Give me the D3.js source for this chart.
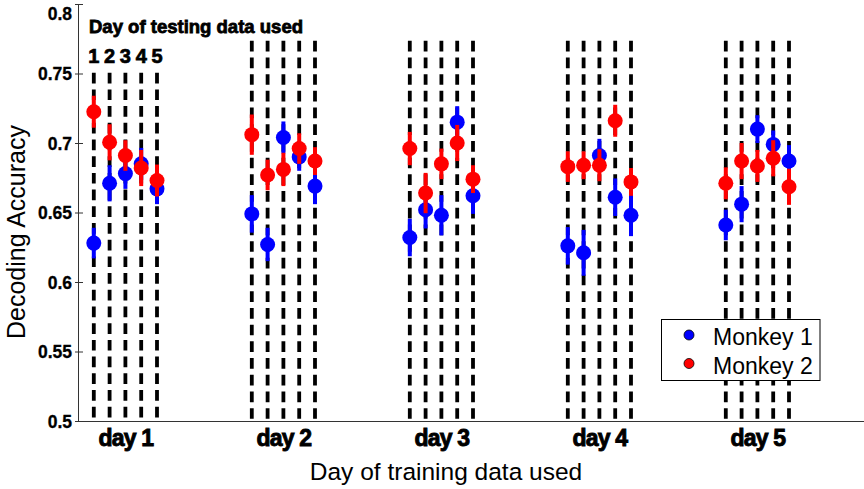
<!DOCTYPE html>
<html>
<head>
<meta charset="utf-8">
<script src="https://cdn.jsdelivr.net/npm/d3@7"></script>
<style>
  body { margin: 0; background: #fff; }
  svg { display: block; font-family: "Liberation Sans", Arial, Helvetica, sans-serif; }
</style>
</head>
<body>
<div id="chart"></div>
<script>
// training days (groups) and testing days (lines within a group)
const trainDays = [1, 2, 3, 4, 5];
const dayLabels = ["day 1", "day 2", "day 3", "day 4", "day 5"];
const testDays = [1, 2, 3, 4, 5];
const yTicks = [0.5, 0.55, 0.6, 0.65, 0.7, 0.75, 0.8];
const lineTop = [0.75, 0.773, 0.773, 0.773, 0.773];

// decoding accuracy, one row per training day, one column per testing day
const monkey1Acc = [
    [0.628, 0.671, 0.678, 0.685, 0.667],
    [0.649, 0.627, 0.704, 0.690, 0.669],
    [0.632, 0.652, 0.648, 0.715, 0.662],
    [0.626, 0.621, 0.691, 0.661, 0.648],
    [0.641, 0.656, 0.710, 0.699, 0.687]
];
const monkey1Err = [
    [0.011, 0.013, 0.011, 0.0115, 0.011],
    [0.0135, 0.012, 0.0115, 0.010, 0.013],
    [0.0135, 0.0135, 0.0145, 0.0115, 0.013],
    [0.0135, 0.0165, 0.012, 0.0135, 0.015],
    [0.011, 0.013, 0.010, 0.010, 0.0115]
];
const monkey2Acc = [
    [0.7225, 0.7005, 0.691, 0.682, 0.673],
    [0.706, 0.677, 0.681, 0.696, 0.687],
    [0.696, 0.664, 0.685, 0.700, 0.674],
    [0.683, 0.684, 0.684, 0.716, 0.672],
    [0.671, 0.687, 0.6835, 0.689, 0.6685]
];
const monkey2Err = [
    [0.0115, 0.013, 0.011, 0.013, 0.0115],
    [0.0145, 0.011, 0.012, 0.011, 0.010],
    [0.012, 0.0145, 0.011, 0.013, 0.010],
    [0.011, 0.010, 0.0115, 0.0115, 0.010],
    [0.0115, 0.013, 0.0115, 0.013, 0.013]
];
const seriesNames = ["Monkey 1", "Monkey 2"];
const seriesColors = ["#0000ff", "#ff0000"];

const width = 864, height = 489;

const svg = d3.select("#chart")
    .append("svg")
    .attr("width", width)
    .attr("height", height);

const x = d3.scaleLinear().domain([0.7, 5.7]).range([78, 868]);
const y = d3.scaleLinear().domain([0.5, 0.8]).range([421, 4]);

const testX = (day, t) => x(day + (t - 3) * 0.1);

// dashed guide lines, one per training/testing day pair
const lines = [];
trainDays.forEach((d, i) => {
    testDays.forEach(t => lines.push({ day: d, test: t, top: lineTop[i] }));
});

svg.append("g")
    .attr("class", "guides")
    .selectAll("line")
    .data(lines)
    .enter()
    .append("line")
    .attr("x1", d => testX(d.day, d.test))
    .attr("x2", d => testX(d.day, d.test))
    .attr("y1", d => y(d.top) - 0.8)
    .attr("y2", y(0.5))
    .attr("stroke", "#000")
    .attr("stroke-width", 3.8)
    .attr("stroke-dasharray", "10.7 6");

// axes
const yAxis = svg.append("g")
    .attr("transform", `translate(${x(0.7)},0)`)
    .call(d3.axisLeft(y).tickValues(yTicks).tickFormat(d3.format("")).tickSize(3).tickSizeOuter(0).tickPadding(3));

yAxis.select(".domain").attr("stroke", "#333");
yAxis.selectAll(".tick line").attr("x1", 5).attr("stroke", "#333");
yAxis.selectAll(".tick text")
    .attr("font-family", "Liberation Sans, Arial, sans-serif")
    .attr("font-size", 17.5)
    .attr("font-weight", "bold")
    .attr("fill", "#000")
    .attr("stroke", "#000")
    .attr("stroke-width", 0.3)
    .attr("dy", "0.36em")
    .attr("y", d => Math.max(y(d), 13) - y(d));

const xAxis = svg.append("g")
    .attr("transform", `translate(0,${y(0.5)})`)
    .call(d3.axisBottom(x).tickValues(trainDays).tickFormat(d => dayLabels[d - 1]).tickSize(0).tickSizeOuter(0).tickPadding(9));

xAxis.select(".domain").attr("stroke", "#333");
xAxis.selectAll(".tick text")
    .attr("font-family", "Liberation Sans, Arial, sans-serif")
    .attr("font-size", 23)
    .attr("font-weight", "bold")
    .attr("fill", "#000")
    .attr("stroke", "#000")
    .attr("stroke-width", 0.9)
    .attr("letter-spacing", -0.8);

// error bars + markers, monkey 1 first then monkey 2 on top
const series = [
    { name: seriesNames[0], color: seriesColors[0], acc: monkey1Acc, err: monkey1Err },
    { name: seriesNames[1], color: seriesColors[1], acc: monkey2Acc, err: monkey2Err }
];

series.forEach(s => {
    const pts = [];
    trainDays.forEach((d, i) => {
        testDays.forEach((t, j) => {
            pts.push({ day: d, test: t, v: s.acc[i][j], e: s.err[i][j] });
        });
    });

    const g = svg.append("g").attr("class", "series");

    const pt = g.selectAll("g")
        .data(pts)
        .enter()
        .append("g");

    pt.append("line")
        .attr("x1", d => testX(d.day, d.test))
        .attr("x2", d => testX(d.day, d.test))
        .attr("y1", d => y(d.v - d.e))
        .attr("y2", d => y(d.v + d.e))
        .attr("stroke", s.color)
        .attr("stroke-width", 4);

    pt.append("circle")
        .attr("cx", d => testX(d.day, d.test))
        .attr("cy", d => y(d.v))
        .attr("r", 7.5)
        .attr("fill", s.color);
});

// annotation for the testing day lines
svg.append("text")
    .attr("x", 89)
    .attr("y", 33.3)
    .attr("font-size", 18.5)
    .attr("font-weight", "bold")
    .attr("textLength", 214)
    .attr("lengthAdjust", "spacingAndGlyphs")
    .attr("stroke", "#000")
    .attr("stroke-width", 0.8)
    .text("Day of testing data used");

svg.append("g")
    .selectAll("text")
    .data(testDays)
    .enter()
    .append("text")
    .attr("x", t => testX(1, t))
    .attr("y", 63)
    .attr("text-anchor", "middle")
    .attr("font-size", 20)
    .attr("font-weight", "bold")
    .attr("stroke", "#000")
    .attr("stroke-width", 0.7)
    .text(t => t);

// axis titles
svg.append("text")
    .attr("transform", "translate(25,232) rotate(-90)")
    .attr("text-anchor", "middle")
    .attr("font-size", 25)
    .text("Decoding Accuracy");

svg.append("text")
    .attr("x", 446)
    .attr("y", 479.5)
    .attr("text-anchor", "middle")
    .attr("font-size", 24.5)
    .text("Day of training data used");

// legend
const legend = svg.append("g").attr("class", "legend");

legend.append("rect")
    .attr("x", 661.5)
    .attr("y", 319.5)
    .attr("width", 158.5)
    .attr("height", 61)
    .attr("fill", "#fff")
    .attr("stroke", "#000")
    .attr("stroke-width", 1);

const item = legend.selectAll(".item")
    .data(series)
    .enter()
    .append("g")
    .attr("class", "item")
    .attr("transform", (d, i) => `translate(0,${335 + i * 28.5})`);

item.append("circle")
    .attr("cx", 689)
    .attr("cy", 0)
    .attr("r", 5)
    .attr("fill", d => d.color)
    .attr("stroke", "#000")
    .attr("stroke-width", 0.8);

item.append("text")
    .attr("x", 713)
    .attr("y", 10)
    .attr("font-size", 23)
    .text(d => d.name);
</script>
</body>
</html>
